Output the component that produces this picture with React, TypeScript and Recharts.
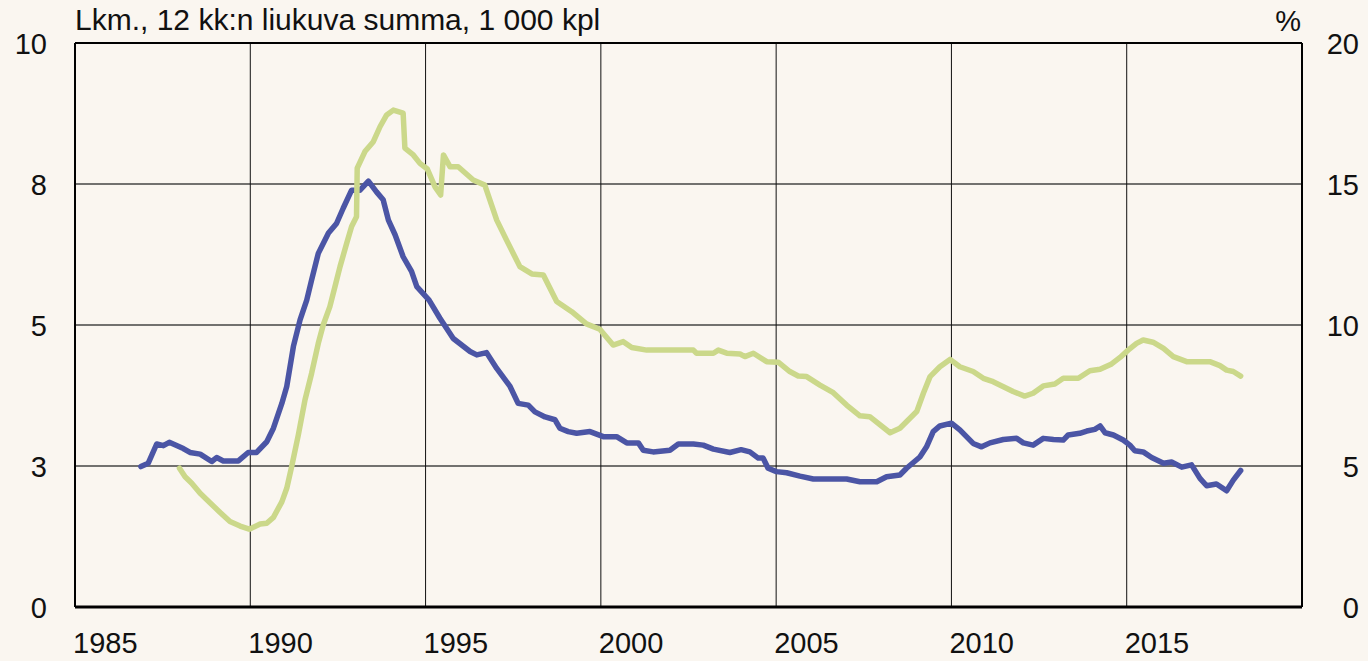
import React from "react";
import { LineChart, Line, XAxis, YAxis, ReferenceLine } from "recharts";

const blueYears = [
  1986.88, 1987.09, 1987.33, 1987.52, 1987.69, 1988.09, 1988.28, 1988.57, 1988.9, 1989.04,
  1989.23, 1989.66, 1989.94, 1990.18, 1990.47, 1990.66, 1990.9, 1991.04, 1991.23, 1991.42,
  1991.61, 1991.75, 1991.94, 1992.23, 1992.46, 1992.65, 1992.89, 1993.13, 1993.37, 1993.6,
  1993.79, 1993.94, 1994.13, 1994.36, 1994.6, 1994.75, 1995.1, 1995.41, 1995.79, 1996.27,
  1996.46, 1996.74, 1997.03, 1997.41, 1997.64, 1997.93, 1998.12, 1998.41, 1998.69, 1998.83,
  1999.07, 1999.31, 1999.69, 2000.07, 2000.45, 2000.74, 2001.07, 2001.21, 2001.49, 2001.97,
  2002.21, 2002.64, 2002.92, 2003.21, 2003.68, 2004.0, 2004.25, 2004.49, 2004.63, 2004.77,
  2005.01, 2005.3, 2005.68, 2006.06, 2006.63, 2007.01, 2007.39, 2007.87, 2008.15, 2008.53,
  2008.72, 2009.1, 2009.29, 2009.48, 2009.67, 2010.0, 2010.24, 2010.62, 2010.86, 2011.1,
  2011.48, 2011.86, 2012.05, 2012.33, 2012.62, 2012.91, 2013.19, 2013.33, 2013.66, 2013.86,
  2014.09, 2014.24, 2014.38, 2014.62, 2014.9, 2015.09, 2015.23, 2015.47, 2015.71, 2016.05,
  2016.28, 2016.57, 2016.85, 2017.09, 2017.28, 2017.56, 2017.85, 2018.04, 2018.25,
];
const blueValues = [
  2.49, 2.55, 2.89, 2.86, 2.92, 2.81, 2.74, 2.71, 2.58, 2.65,
  2.59, 2.59, 2.74, 2.74, 2.93, 3.17, 3.61, 3.91, 4.62, 5.09,
  5.44, 5.8, 6.27, 6.63, 6.8, 7.07, 7.39, 7.39, 7.55, 7.36,
  7.22, 6.86, 6.6, 6.21, 5.95, 5.68, 5.44, 5.12, 4.76, 4.53,
  4.47, 4.51, 4.23, 3.91, 3.61, 3.58, 3.46, 3.37, 3.32, 3.17,
  3.11, 3.08, 3.11, 3.02, 3.02, 2.91, 2.91, 2.78, 2.75, 2.78,
  2.89, 2.89, 2.87, 2.8, 2.74, 2.79, 2.75, 2.64, 2.64, 2.46,
  2.4, 2.38, 2.32, 2.27, 2.27, 2.27, 2.22, 2.22, 2.31, 2.34,
  2.46, 2.66, 2.84, 3.11, 3.21, 3.26, 3.14, 2.9, 2.84, 2.91,
  2.97, 2.99, 2.91, 2.87, 2.99, 2.97, 2.96, 3.05, 3.08, 3.12,
  3.15, 3.21, 3.09, 3.05, 2.96, 2.87, 2.77, 2.75, 2.65, 2.55,
  2.57, 2.48, 2.52, 2.28, 2.15, 2.18, 2.06, 2.25, 2.42,
];

const greenYears = [
  1987.98, 1988.14, 1988.33, 1988.57, 1988.85, 1989.14, 1989.42, 1989.71, 1989.97, 1990.28,
  1990.47, 1990.66, 1990.9, 1991.04, 1991.18, 1991.37, 1991.56, 1991.75, 1991.94, 1992.08,
  1992.27, 1992.44, 1992.56, 1992.75, 1992.89, 1993.03, 1993.05, 1993.27, 1993.51, 1993.7,
  1993.89, 1994.08, 1994.36, 1994.41, 1994.65, 1994.84, 1995.05, 1995.27, 1995.43, 1995.51,
  1995.7, 1995.93, 1996.36, 1996.69, 1997.03, 1997.31, 1997.69, 1998.03, 1998.36, 1998.74,
  1999.17, 1999.59, 1999.97, 2000.35, 2000.64, 2000.88, 2001.31, 2002.64, 2002.73, 2003.21,
  2003.35, 2003.59, 2003.97, 2004.11, 2004.35, 2004.73, 2005.06, 2005.39, 2005.63, 2005.87,
  2006.25, 2006.63, 2007.01, 2007.39, 2007.67, 2008.25, 2008.53, 2009.01, 2009.2, 2009.39,
  2009.67, 2009.96, 2010.24, 2010.62, 2010.91, 2011.19, 2011.57, 2011.76, 2012.09, 2012.33,
  2012.62, 2012.95, 2013.19, 2013.62, 2013.95, 2014.24, 2014.57, 2014.81, 2015.04, 2015.28,
  2015.47, 2015.75, 2016.05, 2016.33, 2016.71, 2017.37, 2017.66, 2017.85, 2018.04, 2018.25,
];
const greenValues = [
  4.92, 4.62, 4.39, 4.03, 3.7, 3.35, 3.03, 2.87, 2.76, 2.94,
  2.97, 3.18, 3.73, 4.21, 4.98, 6.1, 7.34, 8.29, 9.35, 10.0,
  10.65, 11.48, 12.07, 12.9, 13.49, 13.84, 15.56, 16.15, 16.5, 17.03,
  17.45, 17.62, 17.51, 16.27, 16.03, 15.73, 15.53, 14.9, 14.61, 16.03,
  15.61, 15.61, 15.14, 14.96, 13.72, 13.01, 12.07, 11.81, 11.77, 10.83,
  10.47, 10.04, 9.85, 9.29, 9.41, 9.2, 9.11, 9.11, 9.0, 9.0,
  9.11, 9.0, 8.97, 8.88, 9.0, 8.7, 8.68, 8.35, 8.19, 8.17,
  7.87, 7.6, 7.16, 6.78, 6.75, 6.18, 6.34, 6.93, 7.58, 8.17,
  8.52, 8.78, 8.52, 8.35, 8.11, 7.99, 7.76, 7.64, 7.48, 7.58,
  7.84, 7.91, 8.11, 8.11, 8.38, 8.43, 8.62, 8.85, 9.11, 9.35,
  9.47, 9.39, 9.17, 8.88, 8.7, 8.7, 8.56, 8.4, 8.35, 8.19,
];

const xTicks = [1985, 1990, 1995, 2000, 2005, 2010, 2015];
const xGridYears = [1990, 1995, 2000, 2005, 2010, 2015];
const leftTicks = [0, 2.5, 5, 7.5, 10];
const rightTicks = [0, 5, 10, 15, 20];
const titleText = "Lkm., 12 kk:n liukuva summa, 1 000 kpl";
const rightUnit = "%";

const blueData = blueYears.map((x, i) => ({ x, v: blueValues[i] }));
const greenData = greenYears.map((x, i) => ({ x, v: greenValues[i] }));

const FONT = "'Liberation Sans', Arial, sans-serif";
const BG = "#faf6f0";

const XTick = (props: any) => {
  const { x, y, payload } = props;
  return (
    <text x={x - 2} y={y + 46} textAnchor="start" fontFamily={FONT} fontSize={29} fill="#111">
      {payload.value}
    </text>
  );
};

const LeftTick = (props: any) => {
  const { x, y, payload } = props;
  return (
    <text x={x - 28} y={y + 10.5} textAnchor="end" fontFamily={FONT} fontSize={29} fill="#111">
      {Math.round(payload.value)}
    </text>
  );
};

const RightTick = (props: any) => {
  const { x, y, payload } = props;
  return (
    <text x={x + 57} y={y + 10.5} textAnchor="end" fontFamily={FONT} fontSize={29} fill="#111">
      {payload.value}
    </text>
  );
};

export default function App() {
  return (
    <div style={{ position: "absolute", left: 0, top: 0, width: 1368, height: 661, background: BG }}>
      <LineChart
        width={1368}
        height={661}
        margin={{ top: 43, right: 0, bottom: 0, left: 0 }}
        style={{ background: BG }}
      >
        <XAxis
          dataKey="x"
          type="number"
          domain={[1985, 2020]}
          ticks={xTicks}
          allowDataOverflow
          height={54}
          tickLine={false}
          tickSize={0}
          tickMargin={0}
          axisLine={{ stroke: "#000", strokeWidth: 3 }}
          tick={<XTick />}
          interval={0}
        />
        <YAxis
          yAxisId="l"
          domain={[0, 10]}
          ticks={leftTicks}
          width={75}
          tickLine={false}
          tickSize={0}
          tickMargin={0}
          axisLine={{ stroke: "#000", strokeWidth: 2 }}
          tick={<LeftTick />}
          interval={0}
        />
        <YAxis
          yAxisId="r"
          orientation="right"
          domain={[0, 20]}
          ticks={rightTicks}
          width={66}
          tickLine={false}
          tickSize={0}
          tickMargin={0}
          axisLine={{ stroke: "#000", strokeWidth: 2 }}
          tick={<RightTick />}
          interval={0}
        />
        {[2.5, 5, 7.5].map((v) => (
          <ReferenceLine key={"h" + v} yAxisId="l" y={v} stroke="#444" strokeWidth={1.5} />
        ))}
        {xGridYears.map((v) => (
          <ReferenceLine key={"v" + v} yAxisId="l" x={v} stroke="#111" strokeWidth={1} />
        ))}
        <ReferenceLine yAxisId="l" y={10} stroke="#000" strokeWidth={2} />
        <Line
          yAxisId="l"
          data={blueData}
          dataKey="v"
          type="linear"
          stroke="#4b55a5"
          strokeWidth={5.5}
          strokeLinejoin="round"
          strokeLinecap="round"
          dot={false}
          activeDot={false}
          isAnimationActive={false}
        />
        <Line
          yAxisId="r"
          data={greenData}
          dataKey="v"
          type="linear"
          stroke="#cbd88a"
          strokeWidth={5.5}
          strokeLinejoin="round"
          strokeLinecap="round"
          dot={false}
          activeDot={false}
          isAnimationActive={false}
        />
        <text x={75} y={30} fontFamily={FONT} fontSize={30} fill="#111">
          {titleText}
        </text>
        <text x={1301} y={31} textAnchor="end" fontFamily={FONT} fontSize={29} fill="#111">
          {rightUnit}
        </text>
      </LineChart>
    </div>
  );
}
